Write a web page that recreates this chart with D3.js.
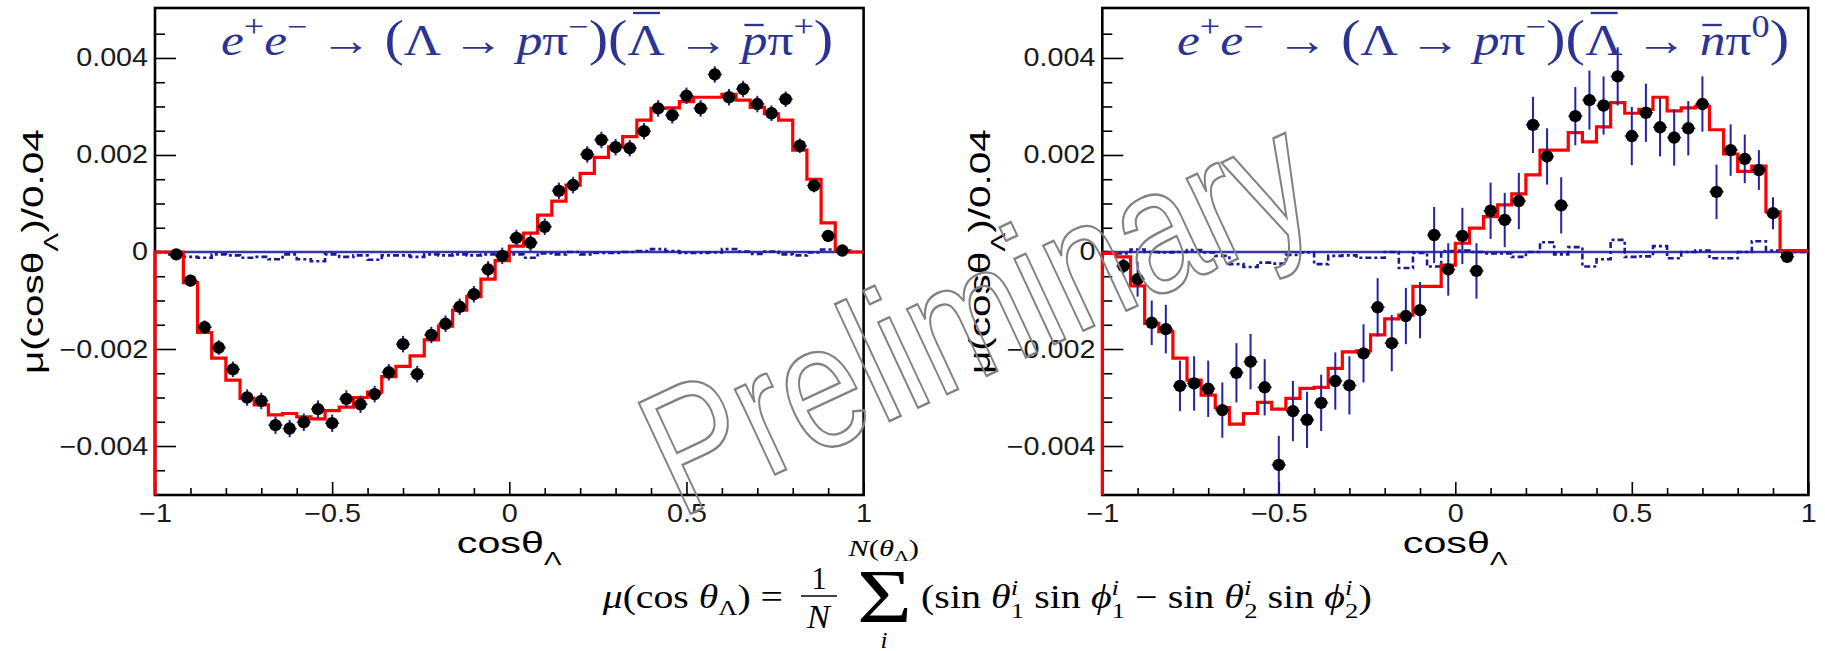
<!DOCTYPE html>
<html><head><meta charset="utf-8">
<script src="https://cdn.jsdelivr.net/npm/d3@7"></script>
<style>body{margin:0;background:#fff}svg{display:block}</style>
</head><body>
<svg id="c" width="1825" height="651"></svg>
<script>
// ---------------- data ----------------
const binLowEdges = [-1.00,-0.96,-0.92,-0.88,-0.84,-0.80,-0.76,-0.72,-0.68,-0.64,
  -0.60,-0.56,-0.52,-0.48,-0.44,-0.40,-0.36,-0.32,-0.28,-0.24,
  -0.20,-0.16,-0.12,-0.08,-0.04,0.00,0.04,0.08,0.12,0.16,
  0.20,0.24,0.28,0.32,0.36,0.40,0.44,0.48,0.52,0.56,
  0.60,0.64,0.68,0.72,0.76,0.80,0.84,0.88,0.92,0.96];
const binWidth = 0.04;
const pointCenters = [-0.94,-0.90,-0.86,-0.82,-0.78,-0.74,-0.70,-0.66,-0.62,-0.58,
  -0.54,-0.50,-0.46,-0.42,-0.38,-0.34,-0.30,-0.26,-0.22,-0.18,
  -0.14,-0.10,-0.06,-0.02,0.02,0.06,0.10,0.14,0.18,0.22,
  0.26,0.30,0.34,0.38,0.42,0.46,0.50,0.54,0.58,0.62,
  0.66,0.70,0.74,0.78,0.82,0.86,0.90,0.94];

// left panel: Lambda -> p pi-, Lambdabar -> pbar pi+
const leftModel = [0,0,-0.00063,-0.00166,-0.00219,-0.00264,-0.00302,-0.00315,-0.00336,-0.00333,
  -0.00340,-0.00344,-0.00327,-0.00320,-0.00300,-0.00289,-0.00257,-0.00236,-0.00214,-0.00181,
  -0.00153,-0.00120,-0.00092,-0.00056,-0.00018,0.00012,0.00039,0.00076,0.00105,0.00138,
  0.00162,0.00195,0.00217,0.00238,0.00272,0.00296,0.00297,0.00310,0.00319,0.00319,
  0.00325,0.00313,0.00298,0.00285,0.00272,0.00210,0.00150,0.00060,0.00003,0];
const leftBkg = [0,-0.00005,-0.00010,-0.00012,-0.00005,-0.00007,-0.00012,-0.00010,-0.00015,-0.00005,
  -0.00015,-0.00019,-0.00005,-0.00010,-0.00007,-0.00016,-0.00007,-0.00007,-0.00010,-0.00005,
  -0.00007,-0.00005,-0.00007,-0.00005,-0.00003,-0.00005,-0.00012,-0.00003,-0.00005,0,
  -0.00005,-0.00002,-0.00002,0,0.00002,0.00006,0.00002,-0.00002,-0.00002,-0.00001,
  0.00006,0.00001,-0.00004,0.00001,-0.00005,-0.00007,-0.00001,0.00005,0.00001,0];
const leftData = [-0.00005,-0.00059,-0.00155,-0.00197,-0.00242,-0.00300,-0.00307,-0.00357,-0.00364,-0.00351,
  -0.00324,-0.00353,-0.00303,-0.00314,-0.00293,-0.00248,-0.00190,-0.00252,-0.00171,-0.00148,
  -0.00113,-0.00087,-0.00036,-0.00008,0.00029,0.00019,0.00052,0.00126,0.00138,0.00201,
  0.00231,0.00216,0.00214,0.00249,0.00296,0.00282,0.00322,0.00296,0.00366,0.00319,
  0.00336,0.00305,0.00286,0.00315,0.00219,0.00137,0.00033,0.00003];
const leftErr = [0.00010,0.00012,0.00014,0.00015,0.00016,0.00017,0.00017,0.00018,0.00018,0.00018,
  0.00018,0.00018,0.00018,0.00018,0.00017,0.00017,0.00017,0.00017,0.00017,0.00017,
  0.00017,0.00017,0.00017,0.00017,0.00017,0.00017,0.00017,0.00017,0.00017,0.00017,
  0.00017,0.00017,0.00017,0.00017,0.00017,0.00017,0.00017,0.00017,0.00017,0.00017,
  0.00017,0.00017,0.00016,0.00016,0.00015,0.00014,0.00012,0.00010];

// right panel: Lambda -> p pi-, Lambdabar -> nbar pi0
const rightModel = [-0.00003,-0.00010,-0.00070,-0.00147,-0.00164,-0.00219,-0.00264,-0.00295,-0.00321,-0.00355,
  -0.00333,-0.00310,-0.00324,-0.00302,-0.00281,-0.00279,-0.00240,-0.00206,-0.00204,-0.00171,
  -0.00138,-0.00130,-0.00071,-0.00071,-0.00027,0.00018,0.00049,0.00073,0.00097,0.00120,
  0.00159,0.00210,0.00210,0.00246,0.00227,0.00258,0.00308,0.00286,0.00294,0.00319,
  0.00291,0.00297,0.00300,0.00252,0.00202,0.00166,0.00177,0.00083,0.00003,0.00003];
const rightBkg = [0,-0.00003,0.00005,0,-0.00001,0,0.00004,-0.00001,-0.00008,-0.00025,
  -0.00031,-0.00022,-0.00024,-0.00006,-0.00001,-0.00025,-0.00008,-0.00007,-0.00012,-0.00012,
  0,-0.00033,-0.00002,-0.00030,0.00002,0.00003,0,-0.00003,-0.00003,-0.00010,
  0,0.00020,-0.00005,0.00010,-0.00030,-0.00015,0.00025,-0.00010,-0.00009,0.00012,
  -0.00013,0,0.00003,-0.00013,-0.00013,0,0.00022,0.00003,-0.00005,0];
const rightData = [-0.00029,-0.00056,-0.00146,-0.00159,-0.00276,-0.00271,-0.00282,-0.00326,-0.00249,-0.00226,
  -0.00279,-0.00439,-0.00328,-0.00346,-0.00311,-0.00266,-0.00275,-0.00209,-0.00114,-0.00188,
  -0.00132,-0.00120,0.00035,-0.00036,0.00033,-0.00039,0.00085,0.00066,0.00105,0.00262,
  0.00197,0.00096,0.00280,0.00313,0.00302,0.00362,0.00239,0.00287,0.00257,0.00236,
  0.00255,0.00305,0.00124,0.00210,0.00192,0.00169,0.00080,-0.00010];
const rightErr = [0.00015,0.00036,0.00046,0.00050,0.00052,0.00056,0.00058,0.00057,0.00061,0.00057,
  0.00058,0.00060,0.00062,0.00058,0.00058,0.00059,0.00060,0.00060,0.00060,0.00058,
  0.00058,0.00058,0.00058,0.00054,0.00058,0.00057,0.00058,0.00056,0.00058,0.00058,
  0.00058,0.00058,0.00060,0.00061,0.00060,0.00060,0.00060,0.00060,0.00060,0.00058,
  0.00056,0.00057,0.00056,0.00053,0.00050,0.00041,0.00033,0.00012];

const xDomain = [-1, 1];
const yDomain = [-0.00501, 0.00503];
const xMajorTicks = [-1, -0.5, 0, 0.5, 1];
const xMinorTicks = [-0.9,-0.8,-0.7,-0.6,-0.4,-0.3,-0.2,-0.1,0.1,0.2,0.3,0.4,0.6,0.7,0.8,0.9];
const yMajorTicks = [-0.004, -0.002, 0, 0.002, 0.004];
const yMinorTicks = [-0.0045,-0.0035,-0.003,-0.0025,-0.0015,-0.001,-0.0005,0.0005,0.001,0.0015,0.0025,0.003,0.0035,0.0045];

// ---------------- drawing ----------------
const svg = d3.select("#c");
svg.append("rect").attr("width",1825).attr("height",651).attr("fill","#fff");
const SANS = "'Liberation Sans', Arial, Helvetica, sans-serif";
const SERIF = "'Liberation Serif', 'Times New Roman', serif";
const TITLE_COL = "#2c3493";
const ERR_COL = "#2222a8";

function richText(parent, opts, parts) {
  const t = parent.append("text").attr("x",0).attr("y",0)
    .attr("font-family", opts.family).attr("font-size", opts.size)
    .attr("fill", opts.fill || "#000");
  let idx = 0; const bars = [];
  parts.forEach(p => {
    const ts = t.append("tspan").text(p.t);
    if (p.fs) ts.attr("font-size", p.fs);
    if (p.dx) ts.attr("dx", p.dx);
    if (p.dy) ts.attr("dy", p.dy);
    if (p.it) ts.attr("font-style", "italic");
    if (p.bar !== undefined) bars.push({i: idx, off: p.bar});
    idx += p.t.length;
  });
  bars.forEach(b => {
    const e = t.node().getExtentOfChar(b.i);
    parent.append("line")
      .attr("x1", e.x + e.width*0.15).attr("x2", e.x + e.width*0.9)
      .attr("y1", e.y + b.off).attr("y2", e.y + b.off)
      .attr("stroke", opts.fill || "#000").attr("stroke-width", opts.barW || 2);
  });
  return t;
}
function fitH(opts, parts, x, y, w, anchor) {
  const g = svg.append("g");
  const t = richText(g, opts, parts);
  const bb = t.node().getBBox();
  const s = w / bb.width;
  const left = anchor === "middle" ? x - w/2 : x;
  g.attr("transform", `translate(${left - bb.x*s},${y}) scale(${s},1)`);
  return g;
}
function fitV(opts, parts, bx, yCenter, L) {
  const g = svg.append("g");
  const t = richText(g, opts, parts);
  const bb = t.node().getBBox();
  const s = L / bb.width;
  g.attr("transform", `translate(${bx},${yCenter + L/2}) rotate(-90) scale(${s},1) translate(${-bb.x},0)`);
  return g;
}

function drawPanel(cfg) {
  const x = d3.scaleLinear().domain(xDomain).range([cfg.x0, cfg.x1]);
  const y = d3.scaleLinear().domain(yDomain).range([cfg.y1, cfg.y0]);
  const g = svg.append("g");

  g.append("rect").attr("x", cfg.x0).attr("y", cfg.y0)
    .attr("width", cfg.x1 - cfg.x0).attr("height", cfg.y1 - cfg.y0)
    .attr("fill", "none").attr("stroke", "#000").attr("stroke-width", 2.6);

  const yFmt = d => d === 0 ? "0" : d3.format(".3f")(d);
  const yAx = g.append("g").attr("transform", `translate(${cfg.x0},0)`)
    .call(d3.axisLeft(y).tickValues(yMajorTicks).tickSize(-21).tickPadding(6).tickFormat(yFmt));
  g.append("g").attr("transform", `translate(${cfg.x0},0)`)
    .call(d3.axisLeft(y).tickValues(yMinorTicks).tickSize(-10).tickFormat(""));
  const xFmt = d => d3.format("~g")(d);
  const xAx = g.append("g").attr("transform", `translate(0,${cfg.y1})`)
    .call(d3.axisBottom(x).tickValues(xMajorTicks).tickSize(-13).tickPadding(9).tickFormat(xFmt));
  g.append("g").attr("transform", `translate(0,${cfg.y1})`)
    .call(d3.axisBottom(x).tickValues(xMinorTicks).tickSize(-7).tickFormat(""));
  g.selectAll(".domain").remove();
  g.selectAll(".tick line").attr("stroke", "#000").attr("stroke-width", 1.6);
  [yAx, xAx].forEach(a => a.selectAll("text")
    .attr("font-family", SANS).attr("font-size", 25).attr("fill", "#1a1a1a")
    .attr("transform", "scale(1.15,1)"));

  const line = d3.line().x(d => x(d[0])).y(d => y(d[1]));
  const stepPts = vals => {
    const pts = [[binLowEdges[0], yDomain[0]]];
    vals.forEach((v, i) => { pts.push([binLowEdges[i], v]); pts.push([binLowEdges[i] + binWidth, v]); });
    return pts;
  };

  g.append("path").attr("d", line([[xDomain[0], yDomain[0]], [xDomain[0], 0], [xDomain[1], 0]]))
    .attr("fill", "none").attr("stroke", "#3535a6").attr("stroke-width", 2.4);
  g.append("path").attr("d", line(stepPts(cfg.bkg).slice(1)))
    .attr("fill", "none").attr("stroke", "#1a1a9a").attr("stroke-width", 2.6)
    .attr("stroke-dasharray", "6,3,3,3");
  g.append("path").attr("d", line(stepPts(cfg.model)))
    .attr("fill", "none").attr("stroke", "#ff0000").attr("stroke-width", 3.2)
    .attr("stroke-linejoin", "miter");

  const pts = pointCenters.map((c, i) => ({c, v: cfg.data[i], e: cfg.err[i]}));
  const eg = g.append("g").attr("stroke", ERR_COL).attr("stroke-width", 2);
  eg.selectAll("line.v").data(pts).join("line").attr("class","v")
    .attr("x1", d => x(d.c)).attr("x2", d => x(d.c))
    .attr("y1", d => y(d.v - d.e)).attr("y2", d => y(d.v + d.e));
  eg.selectAll("line.h").data(pts).join("line").attr("class","h")
    .attr("x1", d => x(d.c - binWidth/2)).attr("x2", d => x(d.c + binWidth/2))
    .attr("y1", d => y(d.v)).attr("y2", d => y(d.v)).attr("stroke-width", 1.5);
  g.append("g").selectAll("circle").data(pts).join("circle")
    .attr("cx", d => x(d.c)).attr("cy", d => y(d.v)).attr("r", 6.2).attr("fill", "#000");

  fitH({family: SANS, size: 30}, [{t: "cosθ"}, {t: "Λ", fs: 19, dy: 12}],
       (cfg.x0 + cfg.x1) / 2, 553, 105, "middle");
  fitV({family: SANS, size: 30},
       [{t: "μ(cosθ"}, {t: "Λ", fs: 21, dy: 15}, {t: ")/0.04", dy: -15}],
       cfg.x0 - 112, (cfg.y0 + cfg.y1) / 2, 245);

  const sup = {fs: 31, dy: -18};
  const parts = [
    {t: "e", it: 1}, {t: "+", ...sup}, {t: "e", it: 1, dy: 18}, {t: "−", ...sup},
    {t: " → ", dy: 18}, {t: "(", fs: 50}, {t: "Λ → "}, {t: "p", it: 1}, {t: "π"}, {t: "−", ...sup},
    {t: ")", fs: 50, dy: 18}, {t: "(", fs: 50}, {t: "Λ", bar: -3}, {t: " → "},
    {t: cfg.barParticle, it: 1, bar: 9}, {t: "π"}, {t: cfg.lastCharge, ...sup}, {t: ")", fs: 50, dy: 18}
  ];
  fitH({family: SERIF, size: 44, fill: TITLE_COL, barW: 2.3}, parts, cfg.titleX, 55, 611);
}

drawPanel({x0: 155, x1: 863.6, y0: 8, y1: 495, model: leftModel, bkg: leftBkg,
  data: leftData, err: leftErr, barParticle: "p", lastCharge: "+", titleX: 221});
drawPanel({x0: 1102.3, x1: 1808.3, y0: 8, y1: 495, model: rightModel, bkg: rightBkg,
  data: rightData, err: rightErr, barParticle: "n", lastCharge: "0", titleX: 1177});

// formula
fitH({family: SERIF, size: 33}, [{t: "μ", it: 1}, {t: "(cos "}, {t: "θ", it: 1},
  {t: "Λ", fs: 22, dy: 7}, {t: ") =", dy: -7}], 601.5, 608, 181.5);
fitH({family: SERIF, size: 31}, [{t: "1"}], 819, 589, 15, "middle");
svg.append("line").attr("x1", 801).attr("x2", 837).attr("y1", 596).attr("y2", 596)
  .attr("stroke", "#000").attr("stroke-width", 1.6);
fitH({family: SERIF, size: 33}, [{t: "N", it: 1}], 819, 628, 26, "middle");
fitH({family: SERIF, size: 76}, [{t: "Σ"}], 884.5, 622, 55, "middle");
fitH({family: SERIF, size: 23}, [{t: "N", it: 1}, {t: "("}, {t: "θ", it: 1}, {t: "Λ", fs: 15, dy: 5}, {t: ")", dy: -5}],
  883, 556, 72, "middle");
fitH({family: SERIF, size: 23}, [{t: "i", it: 1}], 884, 648, 7, "middle");
const sI = {t: "i", it: 1, fs: 22, dy: -13};
const sub = n => ({t: n, fs: 22, dx: -6, dy: 23});
fitH({family: SERIF, size: 33}, [
  {t: "(sin "}, {t: "θ", it: 1}, sI, sub("1"), {t: " sin ", dy: -10}, {t: "ϕ", it: 1}, sI, sub("1"),
  {t: " − sin ", dy: -10}, {t: "θ", it: 1}, sI, sub("2"), {t: " sin ", dy: -10}, {t: "ϕ", it: 1}, sI, sub("2"),
  {t: ")", dy: -10}], 921, 608, 451);

// watermark
svg.append("text").attr("x", 0).attr("y", 0).attr("dy", "0.3em")
  .attr("transform", "translate(980,320) rotate(-25) scale(0.8,1)")
  .attr("text-anchor", "middle").attr("font-family", SANS).attr("font-size", 178)
  .attr("fill", "none").attr("stroke", "#828282").attr("stroke-width", 2.4)
  .text("Preliminary");
</script>
</body></html>
